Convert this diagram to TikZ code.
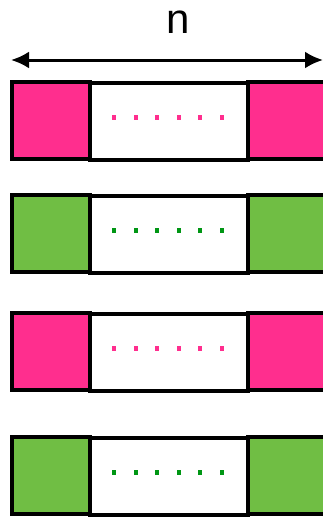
\documentclass[tikz,border=0pt]{standalone}
\usepackage{fontspec}
\setmainfont{Liberation Sans}
\usetikzlibrary{arrows.meta}
\definecolor{pinkfill}{RGB}{255,46,142}
\definecolor{greenfill}{RGB}{112,190,68}
\definecolor{greendot}{RGB}{0,150,20}

\begin{document}
\begin{tikzpicture}[x=1pt, y=-1pt,
  headtip/.style={arrows={Latex[length=18pt,width=17pt]-Latex[length=18pt,width=17pt]}},
  endbox/.style={draw=black, line width=3.4pt},
  midbox/.style={draw=black, line width=3.4pt, fill=white},
  dotmark/.style={inner sep=0pt, minimum width=4pt, minimum height=5pt}]
  \useasboundingbox (0,0) rectangle (323,517);
  \clip (0,0) rectangle (323,517);
  \node[font=\fontsize{42}{42}\selectfont, anchor=base] (len) at (178,33) {n};
  \coordinate (arrL) at (11,60);
  \coordinate (arrR) at (323,60);
  \draw[headtip, line width=3pt] (arrL) -- (arrR);
  % four rows of blocks
  \foreach \top/\fc/\dc [count=\i] in {82/pinkfill/pinkfill, 195/greenfill/greendot,
      313/pinkfill/pinkfill, 437/greenfill/greendot} {
    \draw[endbox, fill=\fc] (12,\top) rectangle (90,\top+77);
    \draw[endbox, fill=\fc] (248,\top) rectangle (340,\top+77);
    \draw[midbox] (90,\top+1) rectangle (248,\top+78);
    \foreach \k in {0,...,5}
      \node[dotmark, fill=\dc] (dot\i\k) at (114+21.6*\k,\top+35) {};
  }
\end{tikzpicture}
\end{document}
